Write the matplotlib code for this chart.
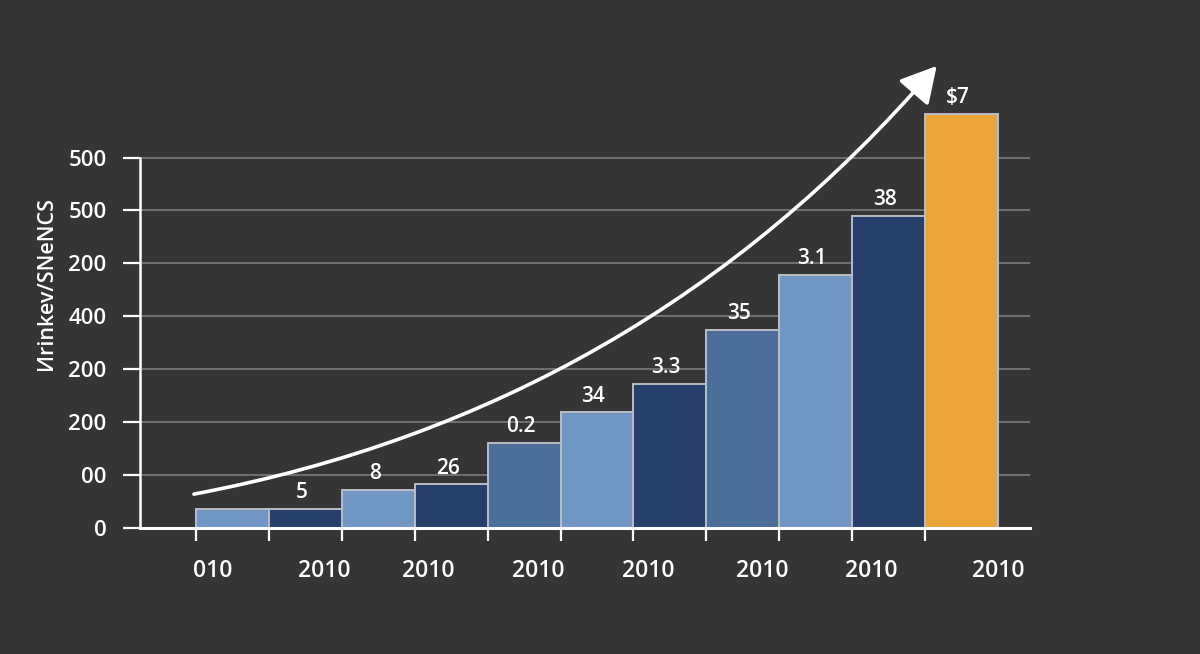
import matplotlib
matplotlib.use("Agg")
import matplotlib.pyplot as plt
import numpy as np

# ---- data ----
bar_values = [36, 36, 72, 83, 161, 219, 272, 374, 478, 590, 783]
bar_labels = ["", "5", "8", "26", "0.2", "34", "3.3", "35", "3.1", "38", "$7"]
bar_colors = ["#7096c4", "#263f6b", "#7096c4", "#263f6b", "#4a6e98", "#7096c4",
              "#263f6b", "#4a6e98", "#7096c4", "#263f6b", "#eba437"]
ytick_values = [0, 100, 200, 300, 400, 500, 600, 700]
ytick_labels = ["0", "00", "200", "200", "400", "200", "500", "500"]
xlabel_pos = [0.23, 1.76, 3.18, 4.69, 6.20, 7.76, 9.26, 11.0]
xlabel_text = ["010", "2010", "2010", "2010", "2010", "2010", "2010", "2010"]
ylabel_text = "Иrinkev/SNeNCS"
arrow_start = (-0.03, 64)
arrow_end = (10.16, 873)

bg = "#353535"
fam = ["Open Sans", "DejaVu Sans"]

fig = plt.figure(figsize=(12, 6.54), dpi=100, facecolor=bg)
ax = fig.add_axes([140/1200, 126/654, 890/1200, 488/654])
ax.set_facecolor(bg)

n = len(bar_values)
x = np.arange(n)
ax.bar(x, bar_values, width=1.0, align="edge", color=bar_colors,
       edgecolor="#b9bdc4", linewidth=1.4, zorder=3)

for xi, v, lab in zip(x, bar_values, bar_labels):
    if lab:
        ax.annotate(lab, (xi + 0.45, v), xytext=(0, 4), textcoords="offset points",
                    ha="center", va="bottom", color="white", fontsize=15,
                    fontweight="semibold", family=fam, zorder=5)

ax.set_xlim(-0.77, 11.44)
ax.set_ylim(0, 922)

# gridlines
for yv in ytick_values[1:]:
    ax.axhline(yv, color="#7a7a7a", lw=1.2, zorder=1)

ax.set_yticks(ytick_values)
ax.set_yticklabels(ytick_labels)
ax.tick_params(axis="y", colors="white", length=12, width=1.6, pad=12,
               labelsize=16)
for t in ax.get_yticklabels():
    t.set_family(fam)
    t.set_fontweight("semibold")

ax.set_xticks(xlabel_pos)
ax.set_xticklabels(xlabel_text)
ax.tick_params(axis="x", which="major", length=0, pad=22, colors="white",
               labelsize=16.5)
for t in ax.get_xticklabels():
    t.set_family(fam)
    t.set_fontweight("semibold")
ax.set_xticks(np.arange(n + 1), minor=True)
ax.tick_params(axis="x", which="minor", length=9, width=1.6, color="white",
               direction="out")

for s in ["top", "right"]:
    ax.spines[s].set_visible(False)
ax.spines["left"].set_color("white")
ax.spines["left"].set_linewidth(1.8)
ax.spines["left"].set_bounds(0, 700)
ax.spines["bottom"].set_color("white")
ax.spines["bottom"].set_linewidth(2.2)
ax.spines["bottom"].set_zorder(4)

ax.set_ylabel(ylabel_text, color="white", fontsize=15.5, family=fam,
              fontweight="semibold", labelpad=8)

ax.annotate("", xy=arrow_end, xytext=arrow_start,
            arrowprops=dict(arrowstyle="-|>,head_length=1.0,head_width=0.55",
                            connectionstyle="arc3,rad=0.175", color="white",
                            lw=2.6, mutation_scale=22, shrinkA=0, shrinkB=0),
            zorder=6, annotation_clip=False)

fig.savefig("out.png", dpi=100, facecolor=bg)
